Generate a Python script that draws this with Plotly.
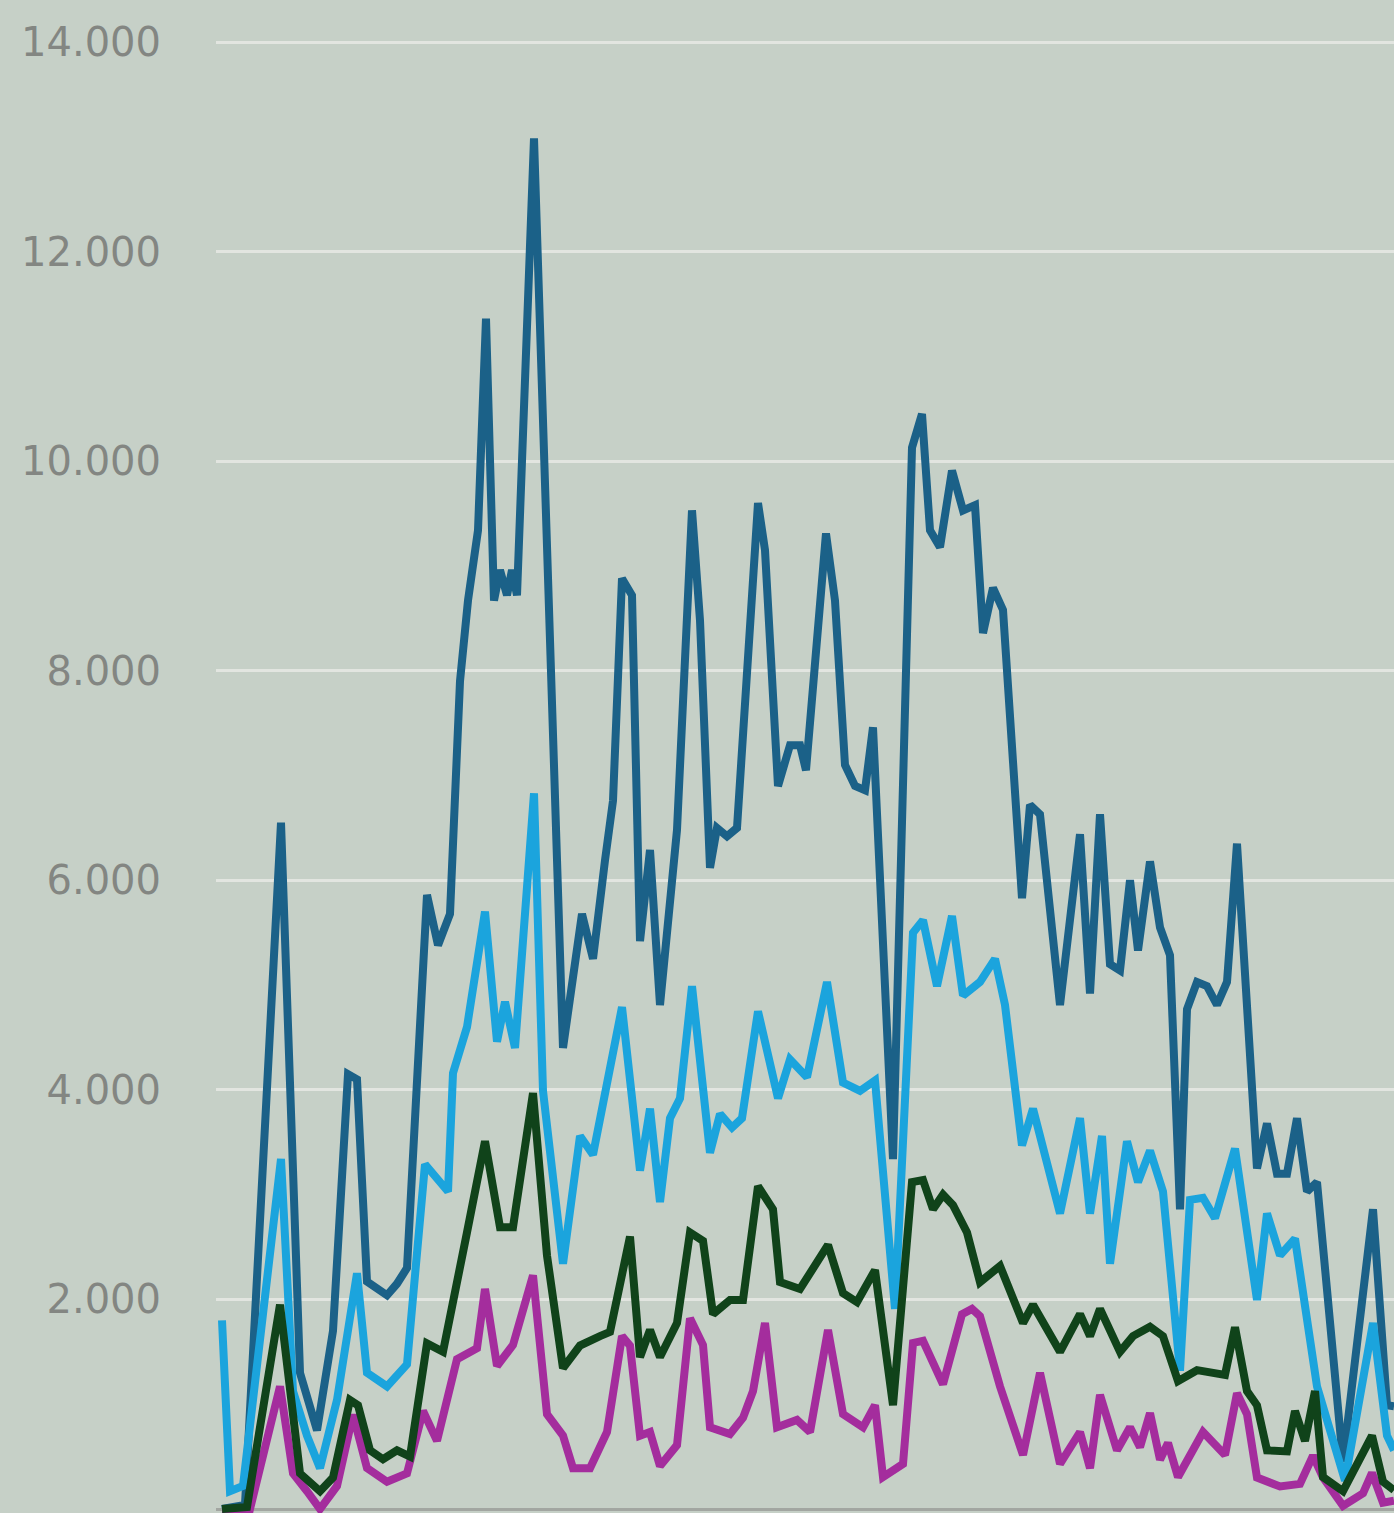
import plotly.graph_objects as go

# x = day index, y = counts
dark_blue_x = [0.0, 2.3, 5.9, 7.8, 9.5, 11.1, 12.6, 13.5, 14.5, 16.5, 17.5, 18.5, 20.5, 21.6, 22.8, 23.8, 24.6, 25.6,
               26.4, 27.2, 27.8, 28.5, 29.0, 29.5, 31.2, 34.1, 36.0, 37.1, 38.3, 39.1, 40.0, 41.0, 41.8, 42.8, 43.8,
               45.5, 47.0, 47.8, 48.8, 49.5, 50.5, 51.5, 53.6, 54.3, 55.6, 56.8, 57.8, 58.4, 60.4, 61.3, 62.3, 63.3,
               64.3, 65.1, 67.1, 69.0, 70.0, 70.8, 71.8, 73.0, 74.1, 75.3, 76.1, 77.1, 78.1, 79.1, 80.0, 80.8, 81.8,
               83.8, 85.8, 86.8, 87.8, 88.8, 89.8, 90.8, 91.6, 92.8, 93.8, 94.8, 95.8, 96.5, 97.5, 98.5, 99.5, 100.5,
               101.5, 103.5, 104.5, 105.5, 106.5, 107.5, 108.5, 109.5, 112.1, 115.1, 116.5, 117.2]
dark_blue_y = [0, 40, 6550, 1300, 750, 1700, 4150, 4100, 2170, 2040, 2150, 2300, 5860, 5380, 5680, 7900, 8670, 9340,
               11360, 8670, 8960, 8720, 8960, 8720, 13080, 4400, 5680, 5250, 6190, 6760, 8880, 8720, 5420, 6290, 4810,
               6480, 9530, 8480, 6120, 6500, 6420, 6500, 9600, 9150, 6900, 7290, 7290, 7050, 9310, 8670, 7100, 6900,
               6860, 7460, 3340, 10130, 10450, 9340, 9180, 9910, 9530, 9580, 8360, 8790, 8580, 7270, 5830, 6720, 6630,
               4810, 6440, 4920, 6630, 5200, 5140, 6000, 5330, 6180, 5550, 5285, 2860, 4770, 5030, 4990, 4810, 5030,
               6350, 3250, 3680, 3200, 3200, 3730, 3030, 3120, 450, 2860, 990, 980]

light_blue_x = [0.0, 0.8, 2.1, 5.9, 7.1, 8.5, 9.8, 11.5, 13.5, 14.5, 16.5, 18.5, 20.3, 22.6, 23.1, 24.5, 26.3, 27.5,
                28.3, 29.3, 31.2, 32.1, 34.1, 35.8, 37.1, 37.8, 40.0, 41.8, 42.8, 43.8, 44.8, 45.8, 47.0, 48.8, 49.8,
                51.0, 52.0, 53.6, 55.6, 56.8, 58.5, 60.5, 62.1, 63.8, 65.3, 67.3, 69.1, 70.1, 71.5, 73.0, 74.1, 75.8,
                77.3, 78.3, 80.0, 81.1, 83.8, 85.8, 86.8, 88.0, 88.8, 90.5, 91.6, 92.8, 94.1, 95.8, 96.8, 98.1, 99.3,
                101.3, 103.5, 104.5, 105.8, 107.3, 109.5, 112.3, 115.1, 116.5, 117.2]
light_blue_y = [1800, 170, 220, 3340, 1125, 700, 390, 1040, 2250, 1300, 1170, 1380, 3290, 3030, 4160, 4600, 5700, 4460,
                4840, 4400, 6830, 3990, 2340, 3560, 3380, 3730, 4790, 3230, 3820, 2930, 3730, 3920, 4990, 3400, 3770,
                3640, 3730, 4750, 3920, 4290, 4120, 5030, 4070, 3990, 4090, 1910, 5500, 5620, 4990, 5660, 4900, 5030,
                5250, 4810, 3470, 3820, 2820, 3730, 2820, 3560, 2340, 3510, 3120, 3420, 3030, 1320, 2950, 2970, 2775,
                3440, 1995, 2820, 2420, 2580, 1170, 270, 1775, 700, 560]

green_x = [0.0, 2.5, 5.8, 7.1, 7.8, 9.8, 11.1, 12.8, 13.6, 14.8, 16.1, 17.5, 18.8, 20.5, 22.1, 24.5, 26.3, 27.8, 29.1,
           31.1, 32.5, 34.1, 35.8, 37.8, 38.8, 40.8, 41.8, 42.8, 43.8, 45.5, 46.8, 48.1, 49.1, 50.8, 52.1, 53.6, 55.1,
           55.8, 57.8, 60.6, 62.1, 63.5, 65.3, 67.1, 69.0, 70.1, 71.1, 72.1, 73.1, 74.5, 75.8, 77.8, 80.1, 81.1, 83.8,
           85.8, 86.8, 87.8, 89.8, 91.1, 92.8, 94.1, 95.6, 97.5, 100.3, 101.3, 102.5, 103.5, 104.5, 106.5, 107.3, 108.3,
           109.3, 110.1, 112.1, 115.0, 116.1, 117.2]
green_y = [0, 20, 1950, 900, 340, 170, 300, 1040, 990, 560, 475, 560, 500, 1580, 1500, 2640, 3510, 2690, 2690,
           3970, 2420, 1345, 1560, 1650, 1690, 2600, 1450, 1710, 1450, 1775, 2640, 2560, 1860, 1995, 1995, 3080, 2860,
           2165, 2100, 2520, 2060, 1975, 2280, 990, 3120, 3140, 2860, 3000, 2900, 2640, 2165, 2320, 1775, 1950, 1500,
           1860, 1650, 1910, 1500, 1650, 1740, 1650, 1220, 1325, 1280, 1735, 1125, 990, 560, 550, 935, 650,
           1125, 305, 170, 700, 260, 180]

magenta_x = [0.0, 2.8, 5.8, 7.1, 8.5, 9.8, 11.5, 13.1, 14.5, 16.5, 18.5, 20.1, 21.5, 23.5, 25.5, 26.3, 27.5, 29.1,
             31.1, 32.5, 34.1, 35.1, 36.8, 38.5, 40.0, 40.8, 41.8, 42.8, 43.8, 45.5, 46.8, 48.1, 48.8, 50.8, 52.1, 53.1,
             54.3, 55.5, 57.5, 58.8, 60.6, 62.1, 64.1, 65.3, 66.1, 68.1, 69.1, 70.1, 72.1, 74.0, 75.0, 75.8, 77.8, 80.1,
             81.8, 83.8, 85.8, 86.8, 87.8, 89.5, 90.8, 91.8, 92.8, 93.8, 94.6, 95.6, 98.1, 100.3, 101.5, 102.5, 103.5,
             105.8, 107.8, 109.1, 110.1, 112.1, 114.1, 115.0, 116.1, 117.2]
magenta_y = [0, 0, 1170, 340, 170, 0, 220, 900, 390, 260, 340, 935, 650, 1430, 1535, 2100, 1365, 1565,
             2230, 905, 700, 390, 390, 735, 1650, 1560, 700, 735, 410, 610, 1820, 1565, 780, 715, 870, 1125,
             1775, 780, 850, 735, 1710, 905, 780, 990, 305, 430, 1585, 1605, 1190, 1860, 1910, 1840, 1170, 515,
             1300, 430, 735, 390, 1090, 560, 780, 590, 915, 470, 630, 305, 735, 515, 1105, 905, 300,
             215, 240, 510, 300, 30, 150, 345, 60, 80]

y_ticks = [0, 2000, 4000, 6000, 8000, 10000, 12000, 14000]
y_tick_text = ["0", "2.000", "4.000", "6.000", "8.000", "10.000", "12.000", "14.000"]

BG = "#c6d0c7"

fig = go.Figure()
series = [
    (dark_blue_x, dark_blue_y, "#1b6188"),
    (light_blue_x, light_blue_y, "#1ba4dd"),
    (magenta_x, magenta_y, "#a42d9d"),
    (green_x, green_y, "#10431a"),
]
for xs, ys, col in series:
    fig.add_trace(go.Scatter(x=xs, y=ys, mode="lines",
                             line=dict(color=col, width=8, shape="linear"),
                             hoverinfo="skip", showlegend=False))

fig.update_layout(
    width=1394, height=1513,
    margin=dict(l=216, r=0, t=0, b=0),
    paper_bgcolor=BG, plot_bgcolor=BG,
    xaxis=dict(range=[-0.6, 117.2], showgrid=False, zeroline=False, showticklabels=False,
               showline=False, ticks=""),
    yaxis=dict(range=[-38, 14401], tickmode="array", tickvals=y_ticks, ticktext=y_tick_text,
               showgrid=True, gridcolor="#e2e5e0", gridwidth=3,
               zeroline=True, zerolinecolor="#a2a6a1", zerolinewidth=3,
               showline=False, ticks="", ticklabelstandoff=54,
               tickfont=dict(family="DejaVu Sans, sans-serif", size=40, color="#838682")),
)

post = ("document.body.style.margin='0';document.body.style.padding='0';"
        "document.body.style.overflow='hidden';document.body.style.background='" + BG + "';"
        "document.documentElement.style.background='" + BG + "';")

fig.write_html("out.html", config={"displayModeBar": False}, post_script=post)
